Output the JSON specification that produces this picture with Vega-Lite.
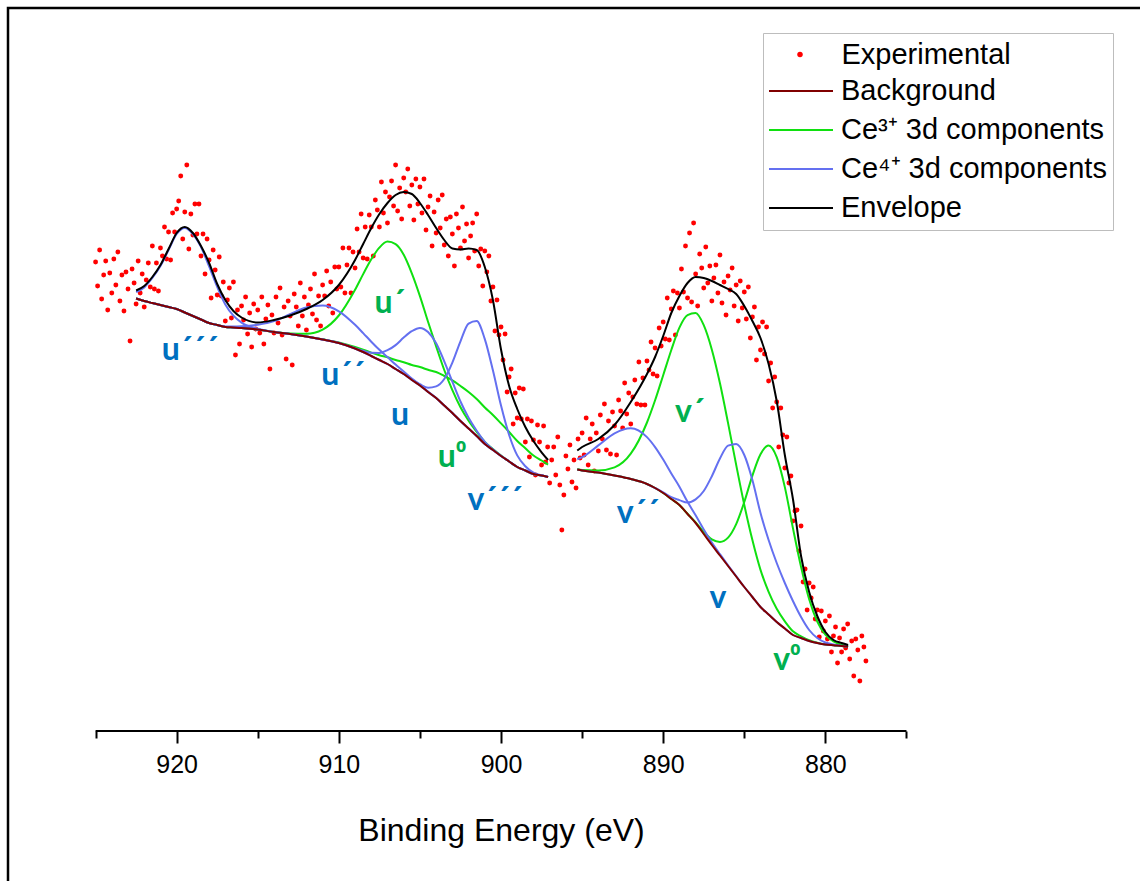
{
"$schema":"https://vega.github.io/schema/vega-lite/v6.json",
"width":1132,"height":873,
"autosize":{"type":"none"},
"padding":{"left":8,"top":8,"right":0,"bottom":0},
"background":"white",
"config":{"view":{"stroke":null},"font":"Liberation Sans"},
"resolve":{"axis":{"x":"independent"}},
"datasets":{
"pts":[
{"E":925,"I":469},{"E":924.875,"I":445},{"E":924.75,"I":481},{"E":924.625,"I":432},{"E":924.5,"I":456},{"E":924.375,"I":470},{"E":924.25,"I":421},{"E":924.125,"I":458},
{"E":924,"I":438},{"E":923.875,"I":472},{"E":923.75,"I":446},{"E":923.625,"I":479},{"E":923.5,"I":430},{"E":923.375,"I":456},{"E":923.25,"I":420},{"E":923.125,"I":459},
{"E":923,"I":442},{"E":922.875,"I":390},{"E":922.75,"I":462},{"E":922.625,"I":448},{"E":922.5,"I":427},{"E":922.375,"I":470},{"E":922.25,"I":438},{"E":922.125,"I":457},
{"E":922,"I":424},{"E":921.875,"I":451},{"E":921.75,"I":468},{"E":921.625,"I":444},{"E":921.5,"I":485},{"E":921.375,"I":442},{"E":921.25,"I":468},{"E":921.125,"I":440},
{"E":921,"I":483},{"E":920.875,"I":475},{"E":920.75,"I":504},{"E":920.625,"I":472},{"E":920.5,"I":499},{"E":920.375,"I":471},{"E":920.25,"I":518},{"E":920.125,"I":499},
{"E":920,"I":522},{"E":919.875,"I":530},{"E":919.75,"I":555},{"E":919.625,"I":492},{"E":919.5,"I":519},{"E":919.375,"I":566},{"E":919.25,"I":482},{"E":919.125,"I":517},
{"E":919,"I":496},{"E":918.875,"I":527},{"E":918.75,"I":497},{"E":918.625,"I":527},{"E":918.5,"I":475},{"E":918.375,"I":497},{"E":918.25,"I":457},{"E":918.125,"I":492},
{"E":918,"I":471},{"E":917.875,"I":433},{"E":917.75,"I":481},{"E":917.625,"I":461},{"E":917.5,"I":436},{"E":917.375,"I":474},{"E":917.25,"I":435},{"E":917.125,"I":449},
{"E":917,"I":410},{"E":916.875,"I":431},{"E":916.75,"I":443},{"E":916.625,"I":413},{"E":916.5,"I":449},{"E":916.375,"I":376},{"E":916.25,"I":421},{"E":916.125,"I":387},
{"E":916,"I":425},{"E":915.875,"I":411},{"E":915.75,"I":434},{"E":915.625,"I":397},{"E":915.5,"I":418},{"E":915.375,"I":384},{"E":915.25,"I":427},{"E":915.125,"I":402},
{"E":915,"I":421},{"E":914.875,"I":398},{"E":914.75,"I":434},{"E":914.625,"I":387},{"E":914.5,"I":412},{"E":914.375,"I":426},{"E":914.25,"I":362},{"E":914.125,"I":416},
{"E":914,"I":398},{"E":913.875,"I":434},{"E":913.75,"I":408},{"E":913.625,"I":443},{"E":913.5,"I":396},{"E":913.375,"I":424},{"E":913.25,"I":372},{"E":913.125,"I":430},
{"E":913,"I":415},{"E":912.875,"I":366},{"E":912.75,"I":437},{"E":912.625,"I":424},{"E":912.5,"I":405},{"E":912.375,"I":448},{"E":912.25,"I":415},{"E":912.125,"I":434},
{"E":912,"I":401},{"E":911.875,"I":426},{"E":911.75,"I":442},{"E":911.625,"I":417},{"E":911.5,"I":457},{"E":911.375,"I":411},{"E":911.25,"I":435},{"E":911.125,"I":405},
{"E":911,"I":446},{"E":910.875,"I":435},{"E":910.75,"I":460},{"E":910.625,"I":425},{"E":910.5,"I":449},{"E":910.375,"I":418},{"E":910.25,"I":464},{"E":910.125,"I":442},
{"E":910,"I":464},{"E":909.875,"I":444},{"E":909.75,"I":483},{"E":909.625,"I":438},{"E":909.5,"I":466},{"E":909.375,"I":483},{"E":909.25,"I":438},{"E":909.125,"I":479},
{"E":909,"I":463},{"E":908.875,"I":502},{"E":908.75,"I":479},{"E":908.625,"I":517},{"E":908.5,"I":473},{"E":908.375,"I":504},{"E":908.25,"I":472},{"E":908.125,"I":516},
{"E":908,"I":504},{"E":907.875,"I":475},{"E":907.75,"I":531},{"E":907.625,"I":521},{"E":907.5,"I":504},{"E":907.375,"I":549},{"E":907.25,"I":518},{"E":907.125,"I":539},
{"E":907,"I":508},{"E":906.875,"I":534},{"E":906.75,"I":550},{"E":906.625,"I":525},{"E":906.5,"I":566},{"E":906.375,"I":520},{"E":906.25,"I":543},{"E":906.125,"I":512},
{"E":906,"I":553},{"E":905.875,"I":539},{"E":905.75,"I":562},{"E":905.625,"I":525},{"E":905.5,"I":546},{"E":905.375,"I":511},{"E":905.25,"I":552},{"E":905.125,"I":527},
{"E":905,"I":544},{"E":904.875,"I":518},{"E":904.75,"I":552},{"E":904.625,"I":501},{"E":904.5,"I":524},{"E":904.375,"I":535},{"E":904.25,"I":485},{"E":904.125,"I":519},
{"E":904,"I":498},{"E":903.875,"I":531},{"E":903.75,"I":503},{"E":903.625,"I":536},{"E":903.5,"I":486},{"E":903.375,"I":512},{"E":903.25,"I":475},{"E":903.125,"I":514},
{"E":903,"I":497},{"E":902.875,"I":465},{"E":902.75,"I":517},{"E":902.625,"I":503},{"E":902.5,"I":483},{"E":902.375,"I":524},{"E":902.25,"I":490},{"E":902.125,"I":507},
{"E":902,"I":473},{"E":901.875,"I":495},{"E":901.75,"I":508},{"E":901.625,"I":480},{"E":901.5,"I":517},{"E":901.375,"I":465},{"E":901.25,"I":482},{"E":901.125,"I":445},
{"E":901,"I":480},{"E":900.875,"I":459},{"E":900.75,"I":475},{"E":900.625,"I":430},{"E":900.5,"I":444},{"E":900.375,"I":400},{"E":900.25,"I":431},{"E":900.125,"I":396},
{"E":900,"I":404},{"E":899.875,"I":371},{"E":899.75,"I":397},{"E":899.625,"I":339},{"E":899.5,"I":354},{"E":899.375,"I":362},{"E":899.25,"I":307},{"E":899.125,"I":338},
{"E":899,"I":313},{"E":898.875,"I":343},{"E":898.75,"I":312},{"E":898.625,"I":342},{"E":898.5,"I":289},{"E":898.375,"I":312},{"E":898.25,"I":274},{"E":898.125,"I":310},
{"E":898,"I":291},{"E":897.875,"I":256},{"E":897.75,"I":306},{"E":897.625,"I":289},{"E":897.5,"I":266},{"E":897.375,"I":305},{"E":897.25,"I":269},{"E":897.125,"I":284},
{"E":897,"I":248},{"E":896.875,"I":271},{"E":896.75,"I":284},{"E":896.625,"I":256},{"E":896.5,"I":294},{"E":896.375,"I":246},{"E":896.25,"I":201},{"E":896.125,"I":236},
{"E":896,"I":275},{"E":895.875,"I":262},{"E":895.75,"I":286},{"E":895.625,"I":249},{"E":895.5,"I":271},{"E":895.375,"I":243},{"E":895.25,"I":292},{"E":895.125,"I":273},
{"E":895,"I":298},{"E":894.875,"I":276},{"E":894.75,"I":313},{"E":894.625,"I":266},{"E":894.5,"I":292},{"E":894.375,"I":307},{"E":894.25,"I":260},{"E":894.125,"I":298},
{"E":894,"I":280},{"E":893.875,"I":316},{"E":893.75,"I":292},{"E":893.625,"I":327},{"E":893.5,"I":281},{"E":893.375,"I":310},{"E":893.25,"I":277},{"E":893.125,"I":319},
{"E":893,"I":305},{"E":892.875,"I":276},{"E":892.75,"I":331},{"E":892.625,"I":320},{"E":892.5,"I":303},{"E":892.375,"I":348},{"E":892.25,"I":317},{"E":892.125,"I":338},
{"E":892,"I":307},{"E":891.875,"I":334},{"E":891.75,"I":351},{"E":891.625,"I":327},{"E":891.5,"I":369},{"E":891.375,"I":326},{"E":891.25,"I":353},{"E":891.125,"I":326},
{"E":891,"I":370},{"E":890.875,"I":361},{"E":890.75,"I":389},{"E":890.625,"I":357},{"E":890.5,"I":383},{"E":890.375,"I":355},{"E":890.25,"I":403},{"E":890.125,"I":385},
{"E":890,"I":409},{"E":889.875,"I":392},{"E":889.75,"I":433},{"E":889.625,"I":391},{"E":889.5,"I":422},{"E":889.375,"I":440},{"E":889.25,"I":396},{"E":889.125,"I":438},
{"E":889,"I":423},{"E":888.875,"I":462},{"E":888.75,"I":439},{"E":888.625,"I":485},{"E":888.5,"I":433},{"E":888.375,"I":498},{"E":888.25,"I":429},{"E":888.125,"I":508},
{"E":888,"I":457},{"E":887.875,"I":425},{"E":887.75,"I":477},{"E":887.625,"I":463},{"E":887.5,"I":443},{"E":887.375,"I":484},{"E":887.25,"I":448},{"E":887.125,"I":465},
{"E":887,"I":430},{"E":886.875,"I":453},{"E":886.75,"I":466},{"E":886.625,"I":438},{"E":886.5,"I":476},{"E":886.375,"I":428},{"E":886.25,"I":449},{"E":886.125,"I":416},
{"E":886,"I":455},{"E":885.875,"I":441},{"E":885.75,"I":463},{"E":885.625,"I":425},{"E":885.5,"I":446},{"E":885.375,"I":410},{"E":885.25,"I":450},{"E":885.125,"I":423},
{"E":885,"I":439},{"E":884.875,"I":412},{"E":884.75,"I":444},{"E":884.625,"I":393},{"E":884.5,"I":414},{"E":884.375,"I":424},{"E":884.25,"I":371},{"E":884.125,"I":404},
{"E":884,"I":381},{"E":883.875,"I":409},{"E":883.75,"I":377},{"E":883.625,"I":404},{"E":883.5,"I":350},{"E":883.375,"I":368},{"E":883.25,"I":323},{"E":883.125,"I":354},
{"E":883,"I":329},{"E":882.875,"I":284},{"E":882.75,"I":323},{"E":882.625,"I":296},{"E":882.5,"I":263},{"E":882.375,"I":294},{"E":882.25,"I":248},{"E":882.125,"I":255},
{"E":882,"I":210},{"E":881.875,"I":220},{"E":881.75,"I":221},{"E":881.625,"I":180},{"E":881.5,"I":205},{"E":881.375,"I":149},{"E":881.25,"I":162},{"E":881.125,"I":121},
{"E":881,"I":148},{"E":880.875,"I":133},{"E":880.75,"I":144},{"E":880.625,"I":112},{"E":880.5,"I":121},{"E":880.375,"I":94},{"E":880.25,"I":120},{"E":880.125,"I":100},
{"E":880,"I":110},{"E":879.875,"I":92},{"E":879.75,"I":115},{"E":879.625,"I":79},{"E":879.5,"I":95},{"E":879.375,"I":104},{"E":879.25,"I":68},{"E":879.125,"I":93},
{"E":879,"I":79},{"E":878.875,"I":102},{"E":878.75,"I":83},{"E":878.625,"I":107},{"E":878.5,"I":72},{"E":878.375,"I":90},{"E":878.25,"I":55},{"E":878.125,"I":92},
{"E":878,"I":81},{"E":877.875,"I":50},{"E":877.75,"I":95},{"E":877.625,"I":84},{"E":877.5,"I":70}
],
"curves":[
{"seg":"L","E":922.5,"bg":432.5,"env":440.5,"u3":438.9,"u2":432.5,"u":432.5,"v3":432.5,"u1":432.5,"u0":432.5},
{"seg":"L","E":922,"bg":430,"env":445,"u3":443.6,"u2":430,"u":430,"v3":430,"u1":430,"u0":430},
{"seg":"L","E":921.5,"bg":428,"env":454,"u3":453,"u2":428,"u":428,"v3":428,"u1":428,"u0":428},
{"seg":"L","E":921,"bg":426,"env":466,"u3":465,"u2":426,"u":426,"v3":426,"u1":426,"u0":426},
{"seg":"L","E":920.5,"bg":424,"env":482,"u3":481,"u2":424,"u":424,"v3":424,"u1":424,"u0":424},
{"seg":"L","E":920,"bg":422,"env":498,"u3":497,"u2":422,"u":422,"v3":422,"u1":422,"u0":422},
{"seg":"L","E":919.5,"bg":418.5,"env":504,"u3":503,"u2":418.5,"u":418.5,"v3":418.5,"u1":418.5,"u0":418.5},
{"seg":"L","E":919,"bg":415,"env":498,"u3":497,"u2":415,"u":415,"v3":415,"u1":415,"u0":415},
{"seg":"L","E":918.5,"bg":411.5,"env":485,"u3":484,"u2":411.5,"u":411.5,"v3":411.5,"u1":411.5,"u0":411.5},
{"seg":"L","E":918,"bg":408,"env":468,"u3":464.6,"u2":408,"u":408,"v3":408,"u1":408,"u0":408},
{"seg":"L","E":917.5,"bg":406,"env":447,"u3":444.1,"u2":406,"u":406,"v3":406,"u1":406,"u0":406},
{"seg":"L","E":917,"bg":404,"env":431,"u3":426.6,"u2":404.5,"u":404,"v3":404,"u1":404,"u0":404},
{"seg":"L","E":916.5,"bg":403.5,"env":420,"u3":415.3,"u2":404.4,"u":403.5,"v3":403.5,"u1":403.5,"u0":403.5},
{"seg":"L","E":916,"bg":403,"env":413.5,"u3":408.4,"u2":404.7,"u":403,"v3":403,"u1":403,"u0":403},
{"seg":"L","E":915,"bg":401.5,"env":408.5,"u3":402.3,"u2":406.3,"u":401.5,"v3":401.5,"u1":401.5,"u0":401.5},
{"seg":"L","E":914,"bg":399,"env":411,"u3":399,"u2":409.9,"u":399,"v3":399,"u1":399.1,"u0":399},
{"seg":"L","E":913,"bg":397,"env":415.5,"u3":397,"u2":416.9,"u":397,"v3":397,"u1":397.6,"u0":397},
{"seg":"L","E":912,"bg":394.5,"env":422,"u3":394.5,"u2":423.5,"u":394.5,"v3":394.5,"u1":397.2,"u0":394.6},
{"seg":"L","E":911,"bg":391.5,"env":431,"u3":391.5,"u2":425.4,"u":391.5,"v3":391.5,"u1":401.4,"u0":391.7},
{"seg":"L","E":910,"bg":388,"env":446,"u3":388,"u2":419.7,"u":388,"v3":388,"u1":415.5,"u0":388.6},
{"seg":"L","E":909,"bg":382.5,"env":471,"u3":382.5,"u2":406.2,"u":382.9,"v3":382.5,"u1":441.3,"u0":384},
{"seg":"L","E":908.5,"bg":379,"env":487,"u3":379,"u2":397.9,"u":380.2,"v3":379,"u1":456.9,"u0":381.3},
{"seg":"L","E":908,"bg":375,"env":503,"u3":375,"u2":389.3,"u":378.2,"v3":375,"u1":471.7,"u0":378.4},
{"seg":"L","E":907.5,"bg":371,"env":517,"u3":371,"u2":381.2,"u":378.1,"v3":371,"u1":483.4,"u0":375.8},
{"seg":"L","E":907,"bg":367,"env":528,"u3":367,"u2":373.9,"u":380.8,"v3":367,"u1":489.4,"u0":373.7},
{"seg":"L","E":906.5,"bg":362,"env":536,"u3":362,"u2":366.4,"u":385.9,"v3":362,"u1":486.8,"u0":371},
{"seg":"L","E":906,"bg":357,"env":539,"u3":357,"u2":359.6,"u":393.4,"v3":357,"u1":476.2,"u0":368.8},
{"seg":"L","E":905.5,"bg":351,"env":537,"u3":351,"u2":352.5,"u":399.8,"v3":351.3,"u1":457.7,"u0":366},
{"seg":"L","E":905,"bg":345.5,"env":528,"u3":345.5,"u2":346.3,"u":403.1,"v3":346.8,"u1":434.9,"u0":364},
{"seg":"L","E":904.5,"bg":339,"env":516,"u3":339,"u2":339.4,"u":398.9,"v3":343.2,"u1":409.2,"u0":361.2},
{"seg":"L","E":904,"bg":333,"env":503,"u3":333,"u2":333,"u":387.7,"v3":344.6,"u1":384.6,"u0":359},
{"seg":"L","E":903.5,"bg":325.5,"env":491,"u3":325.5,"u2":325.5,"u":369.6,"v3":352,"u1":361,"u0":355},
{"seg":"L","E":903,"bg":318,"env":482.5,"u3":318,"u2":318,"u":349.3,"v3":368.4,"u1":340.9,"u0":350.6},
{"seg":"L","E":902.5,"bg":310,"env":481.5,"u3":310,"u2":310,"u":329.5,"v3":389.7,"u1":323.8,"u0":345},
{"seg":"L","E":902,"bg":302.5,"env":482.5,"u3":302.5,"u2":302.5,"u":313.2,"v3":407.4,"u1":310.3,"u0":339},
{"seg":"L","E":901.5,"bg":295,"env":481,"u3":295,"u2":295,"u":300.2,"v3":410,"u1":299.1,"u0":332},
{"seg":"L","E":901,"bg":287,"env":464,"u3":287,"u2":287,"u":289.2,"v3":391.9,"u1":289.1,"u0":323.5},
{"seg":"L","E":900.5,"bg":281,"env":431,"u3":281,"u2":281,"u":281.8,"v3":360.7,"u1":282,"u0":316},
{"seg":"L","E":900,"bg":275,"env":381.5,"u3":275,"u2":275,"u":275.3,"v3":325.4,"u1":275.4,"u0":307.6},
{"seg":"L","E":899.5,"bg":269.5,"env":345,"u3":269.5,"u2":269.5,"u":269.5,"v3":296,"u1":269.5,"u0":299},
{"seg":"L","E":899,"bg":264,"env":322,"u3":264,"u2":264,"u":264,"v3":275.6,"u1":264,"u0":290},
{"seg":"L","E":898.5,"bg":260.5,"env":304,"u3":260.5,"u2":260.5,"u":260.5,"v3":264.7,"u1":260.5,"u0":282.7},
{"seg":"L","E":898,"bg":257,"env":290,"u3":257,"u2":257,"u":257,"v3":258.3,"u1":257,"u0":275.5},
{"seg":"L","E":897.5,"bg":255.5,"env":278.7,"u3":255.5,"u2":255.5,"u":255.5,"v3":255.8,"u1":255.5,"u0":270.5},
{"seg":"L","E":897.1,"bg":254,"env":271,"u3":254,"u2":254,"u":254,"v3":254.1,"u1":254,"u0":266.4},
{"seg":"R","E":895.3,"bg":261.5,"env":280.5,"v2":271.7,"v":261.5,"v1":261.7,"v0":261.5},
{"seg":"R","E":895,"bg":260.5,"env":284,"v2":273.8,"v":260.5,"v1":260.9,"v0":260.5},
{"seg":"R","E":894,"bg":258.5,"env":292,"v2":285.6,"v":258.5,"v1":260.5,"v0":258.5},
{"seg":"R","E":893,"bg":255.5,"env":306,"v2":297.7,"v":255.5,"v1":263.6,"v0":255.5},
{"seg":"R","E":892,"bg":252,"env":329,"v2":302.7,"v":252,"v1":277.3,"v0":252},
{"seg":"R","E":891,"bg":247,"env":357,"v2":293.9,"v":247,"v1":308.5,"v0":247},
{"seg":"R","E":890.5,"bg":243,"env":374,"v2":283.9,"v":243,"v1":330.7,"v0":243},
{"seg":"R","E":890,"bg":238,"env":395,"v2":271.4,"v":238.6,"v1":355.8,"v0":238},
{"seg":"R","E":889.5,"bg":232,"env":418,"v2":257.5,"v":233.8,"v1":381,"v0":232},
{"seg":"R","E":889,"bg":226,"env":435,"v2":244.3,"v":230.9,"v1":403.4,"v0":226},
{"seg":"R","E":888.5,"bg":217,"env":448,"v2":229.2,"v":228.4,"v1":415.9,"v0":217.2},
{"seg":"R","E":888,"bg":208,"env":454,"v2":215.7,"v":231.6,"v1":418,"v0":208.7},
{"seg":"R","E":887.5,"bg":197,"env":453,"v2":201.5,"v":240,"v1":405.8,"v0":199.1},
{"seg":"R","E":887,"bg":186,"env":450,"v2":188.5,"v":254.8,"v1":381.3,"v0":191.7},
{"seg":"R","E":886.5,"bg":175.5,"env":446,"v2":176.8,"v":272.5,"v1":347.7,"v0":189.1},
{"seg":"R","E":886,"bg":165,"env":442,"v2":165.6,"v":285.4,"v1":307.9,"v0":193.4},
{"seg":"R","E":885.5,"bg":154.5,"env":437,"v2":154.8,"v":287,"v1":266.1,"v0":206.9},
{"seg":"R","E":885,"bg":144,"env":425,"v2":144,"v":276,"v1":226.1,"v0":229},
{"seg":"R","E":884.5,"bg":134,"env":410,"v2":134,"v":251,"v1":190.9,"v0":255.4},
{"seg":"R","E":884,"bg":124,"env":393,"v2":124,"v":218,"v1":161.1,"v0":276.7},
{"seg":"R","E":883.5,"bg":116.5,"env":367,"v2":116.5,"v":191,"v1":139.2,"v0":285.5},
{"seg":"R","E":883,"bg":109,"env":330,"v2":109,"v":168,"v1":122.2,"v0":273.8},
{"seg":"R","E":882.5,"bg":102.5,"env":276,"v2":102.5,"v":148,"v1":109.7,"v0":243.9},
{"seg":"R","E":882,"bg":96,"env":232,"v2":96,"v":130,"v1":99.7,"v0":202.9},
{"seg":"R","E":881.5,"bg":93,"env":175,"v2":93,"v":114,"v1":94.7,"v0":164.1},
{"seg":"R","E":881,"bg":90,"env":139,"v2":90,"v":101,"v1":90.8,"v0":131.7},
{"seg":"R","E":880.5,"bg":88,"env":115,"v2":88,"v":93,"v1":88.3,"v0":109.5},
{"seg":"R","E":880,"bg":86.5,"env":99,"v2":86.5,"v":88.5,"v1":86.6,"v0":96.3},
{"seg":"R","E":879.5,"bg":85.7,"env":91,"v2":85.7,"v":86.5,"v1":85.7,"v0":89.6},
{"seg":"R","E":879,"bg":85,"env":88,"v2":85,"v":85.3,"v1":85,"v0":86.4},
{"seg":"R","E":878.6,"bg":84.3,"env":86,"v2":84.3,"v":84.5,"v1":84.3,"v0":84.8}
],
"labels":[
{"t":"u´´´","E":919.18,"I":381,"g":"b"},
{"t":"u´´","E":909.74,"I":356,"g":"b"},
{"t":"u´","E":906.85,"I":428,"g":"g"},
{"t":"u","E":906.23,"I":316,"g":"b"},
{"t":"u⁰","E":903.02,"I":274,"g":"g"},
{"t":"v´´´","E":900.37,"I":231,"g":"b"},
{"t":"v´´","E":891.55,"I":218,"g":"b"},
{"t":"v´","E":888.35,"I":319,"g":"g"},
{"t":"v","E":886.62,"I":133,"g":"b"},
{"t":"v⁰","E":882.37,"I":71,"g":"g"}
]
},
"layer":[
{
"data":{"name":"pts"},
"mark":{"type":"point","filled":true,"size":24,"opacity":1,"strokeWidth":0},
"encoding":{
"x":{"field":"E","type":"quantitative",
"scale":{"domain":[860.6,930.4],"reverse":true,"nice":false,"zero":false},
"axis":{"orient":"bottom","values":[920,910,900,890,880],"offset":-150,"domain":false,"grid":false,"tickSize":12,"tickWidth":2,"tickColor":"#000","labelFontSize":25,"labelFont":"Liberation Sans","labelColor":"#000","labelPadding":9,"labelFlush":false,"labelOverlap":false,"format":"d","title":"Binding Energy (eV)","titleFontSize":32,"titleFont":"Liberation Sans","titleFontWeight":"normal","titleColor":"#000","titleX":493,"titleY":109,"titleBaseline":"alphabetic","titleAlign":"center"}},
"y":{"field":"I","type":"quantitative","scale":{"domain":[-150,723],"nice":false,"zero":false},"axis":null},
"fill":{"datum":"Experimental",
"scale":{"domain":["Experimental"],"range":["#ff0000"]},
"legend":{"orient":"none","legendX":755,"legendY":26,"title":null,"direction":"vertical",
"labelFont":"Liberation Sans","labelFontSize":29,"labelColor":"#000","labelOffset":27,"labelLimit":500,
"symbolType":"circle","symbolSize":30,"symbolStrokeWidth":0,"symbolOffset":16.5,"symbolFillColor":"#ff0000",
"padding":6,"strokeColor":null,"fillColor":null}}
}
},
{
"data":{"name":"curves"},
"transform":[{"fold":["u1","u0","v1","v0"],"as":["c","I"]},{"filter":"isValid(datum.I)"}],
"mark":{"type":"line","strokeWidth":2,"interpolate":"monotone"},
"encoding":{
"x":{"field":"E","type":"quantitative","axis":null},
"y":{"field":"I","type":"quantitative","axis":null},
"detail":{"field":"c"},
"color":{"datum":"Ce³⁺ 3d components",
"scale":{"domain":["Background","Ce³⁺ 3d components","Ce⁴⁺ 3d components","Envelope"],"range":["#800000","#10e010","#6470f0","#000000"]},
"legend":{"orient":"none","legendX":755,"legendY":25,"title":"\u00a0","titleFontSize":29,"titlePadding":7,"titleFont":"Liberation Sans","direction":"vertical",
"labelFont":"Liberation Sans","labelFontSize":29,"labelColor":"#000","labelOffset":7,"labelLimit":500,
"symbolSize":4356,"symbolStrokeWidth":2,"symbolType":"stroke","symbolOffset":-3,
"clipHeight":32,"rowPadding":7,"padding":6,"strokeColor":"#bdbdbd","fillColor":null}}
}
},
{
"data":{"name":"curves"},
"transform":[{"fold":["u3","u2","u","v3","v2","v"],"as":["c","I"]},{"filter":"isValid(datum.I)"}],
"mark":{"type":"line","strokeWidth":2,"interpolate":"monotone"},
"encoding":{
"x":{"field":"E","type":"quantitative","axis":null},
"y":{"field":"I","type":"quantitative","axis":null},
"detail":{"field":"c"},
"color":{"datum":"Ce⁴⁺ 3d components"}
}
},
{
"data":{"name":"curves"},
"mark":{"type":"line","strokeWidth":2,"interpolate":"monotone"},
"encoding":{
"x":{"field":"E","type":"quantitative","axis":null},
"y":{"field":"bg","type":"quantitative","axis":null},
"detail":{"field":"seg"},
"color":{"datum":"Background"}
}
},
{
"data":{"name":"curves"},
"mark":{"type":"line","strokeWidth":2,"interpolate":"monotone"},
"encoding":{
"x":{"field":"E","type":"quantitative","axis":null},
"y":{"field":"env","type":"quantitative","axis":null},
"detail":{"field":"seg"},
"color":{"datum":"Envelope"}
}
},
{
"data":{"values":[{}]},
"mark":{"type":"rule","color":"#000","strokeWidth":2},
"encoding":{
"x":{"datum":925,"type":"quantitative","axis":{"orient":"bottom","values":[925,915,905,895,885,875],"offset":-150,"domain":false,"grid":false,"labels":false,"tickSize":7,"tickWidth":2,"tickColor":"#000","title":null}},
"x2":{"datum":875},
"y":{"datum":0,"type":"quantitative","axis":null}
}
},
{
"data":{"name":"labels"},
"transform":[{"filter":{"field":"g","equal":"b"}}],
"mark":{"type":"text","font":"Lato","fontSize":32,"fontWeight":"bold","color":"#0070c0","align":"center","baseline":"middle"},
"encoding":{
"x":{"field":"E","type":"quantitative","axis":null},
"y":{"field":"I","type":"quantitative","axis":null},
"text":{"field":"t"}
}
},
{
"data":{"name":"labels"},
"transform":[{"filter":{"field":"g","equal":"g"}}],
"mark":{"type":"text","font":"Lato","fontSize":32,"fontWeight":"bold","color":"#00b050","align":"center","baseline":"middle"},
"encoding":{
"x":{"field":"E","type":"quantitative","axis":null},
"y":{"field":"I","type":"quantitative","axis":null},
"text":{"field":"t"}
}
},
{
"data":{"values":[{}]},
"mark":{"type":"rect","filled":false,"stroke":"#000","strokeWidth":2.5,"fillOpacity":0},
"encoding":{
"x":{"datum":930.4,"type":"quantitative","axis":null},
"x2":{"datum":800},
"y":{"datum":723,"type":"quantitative","axis":null},
"y2":{"datum":-500}
}
}
]
}
